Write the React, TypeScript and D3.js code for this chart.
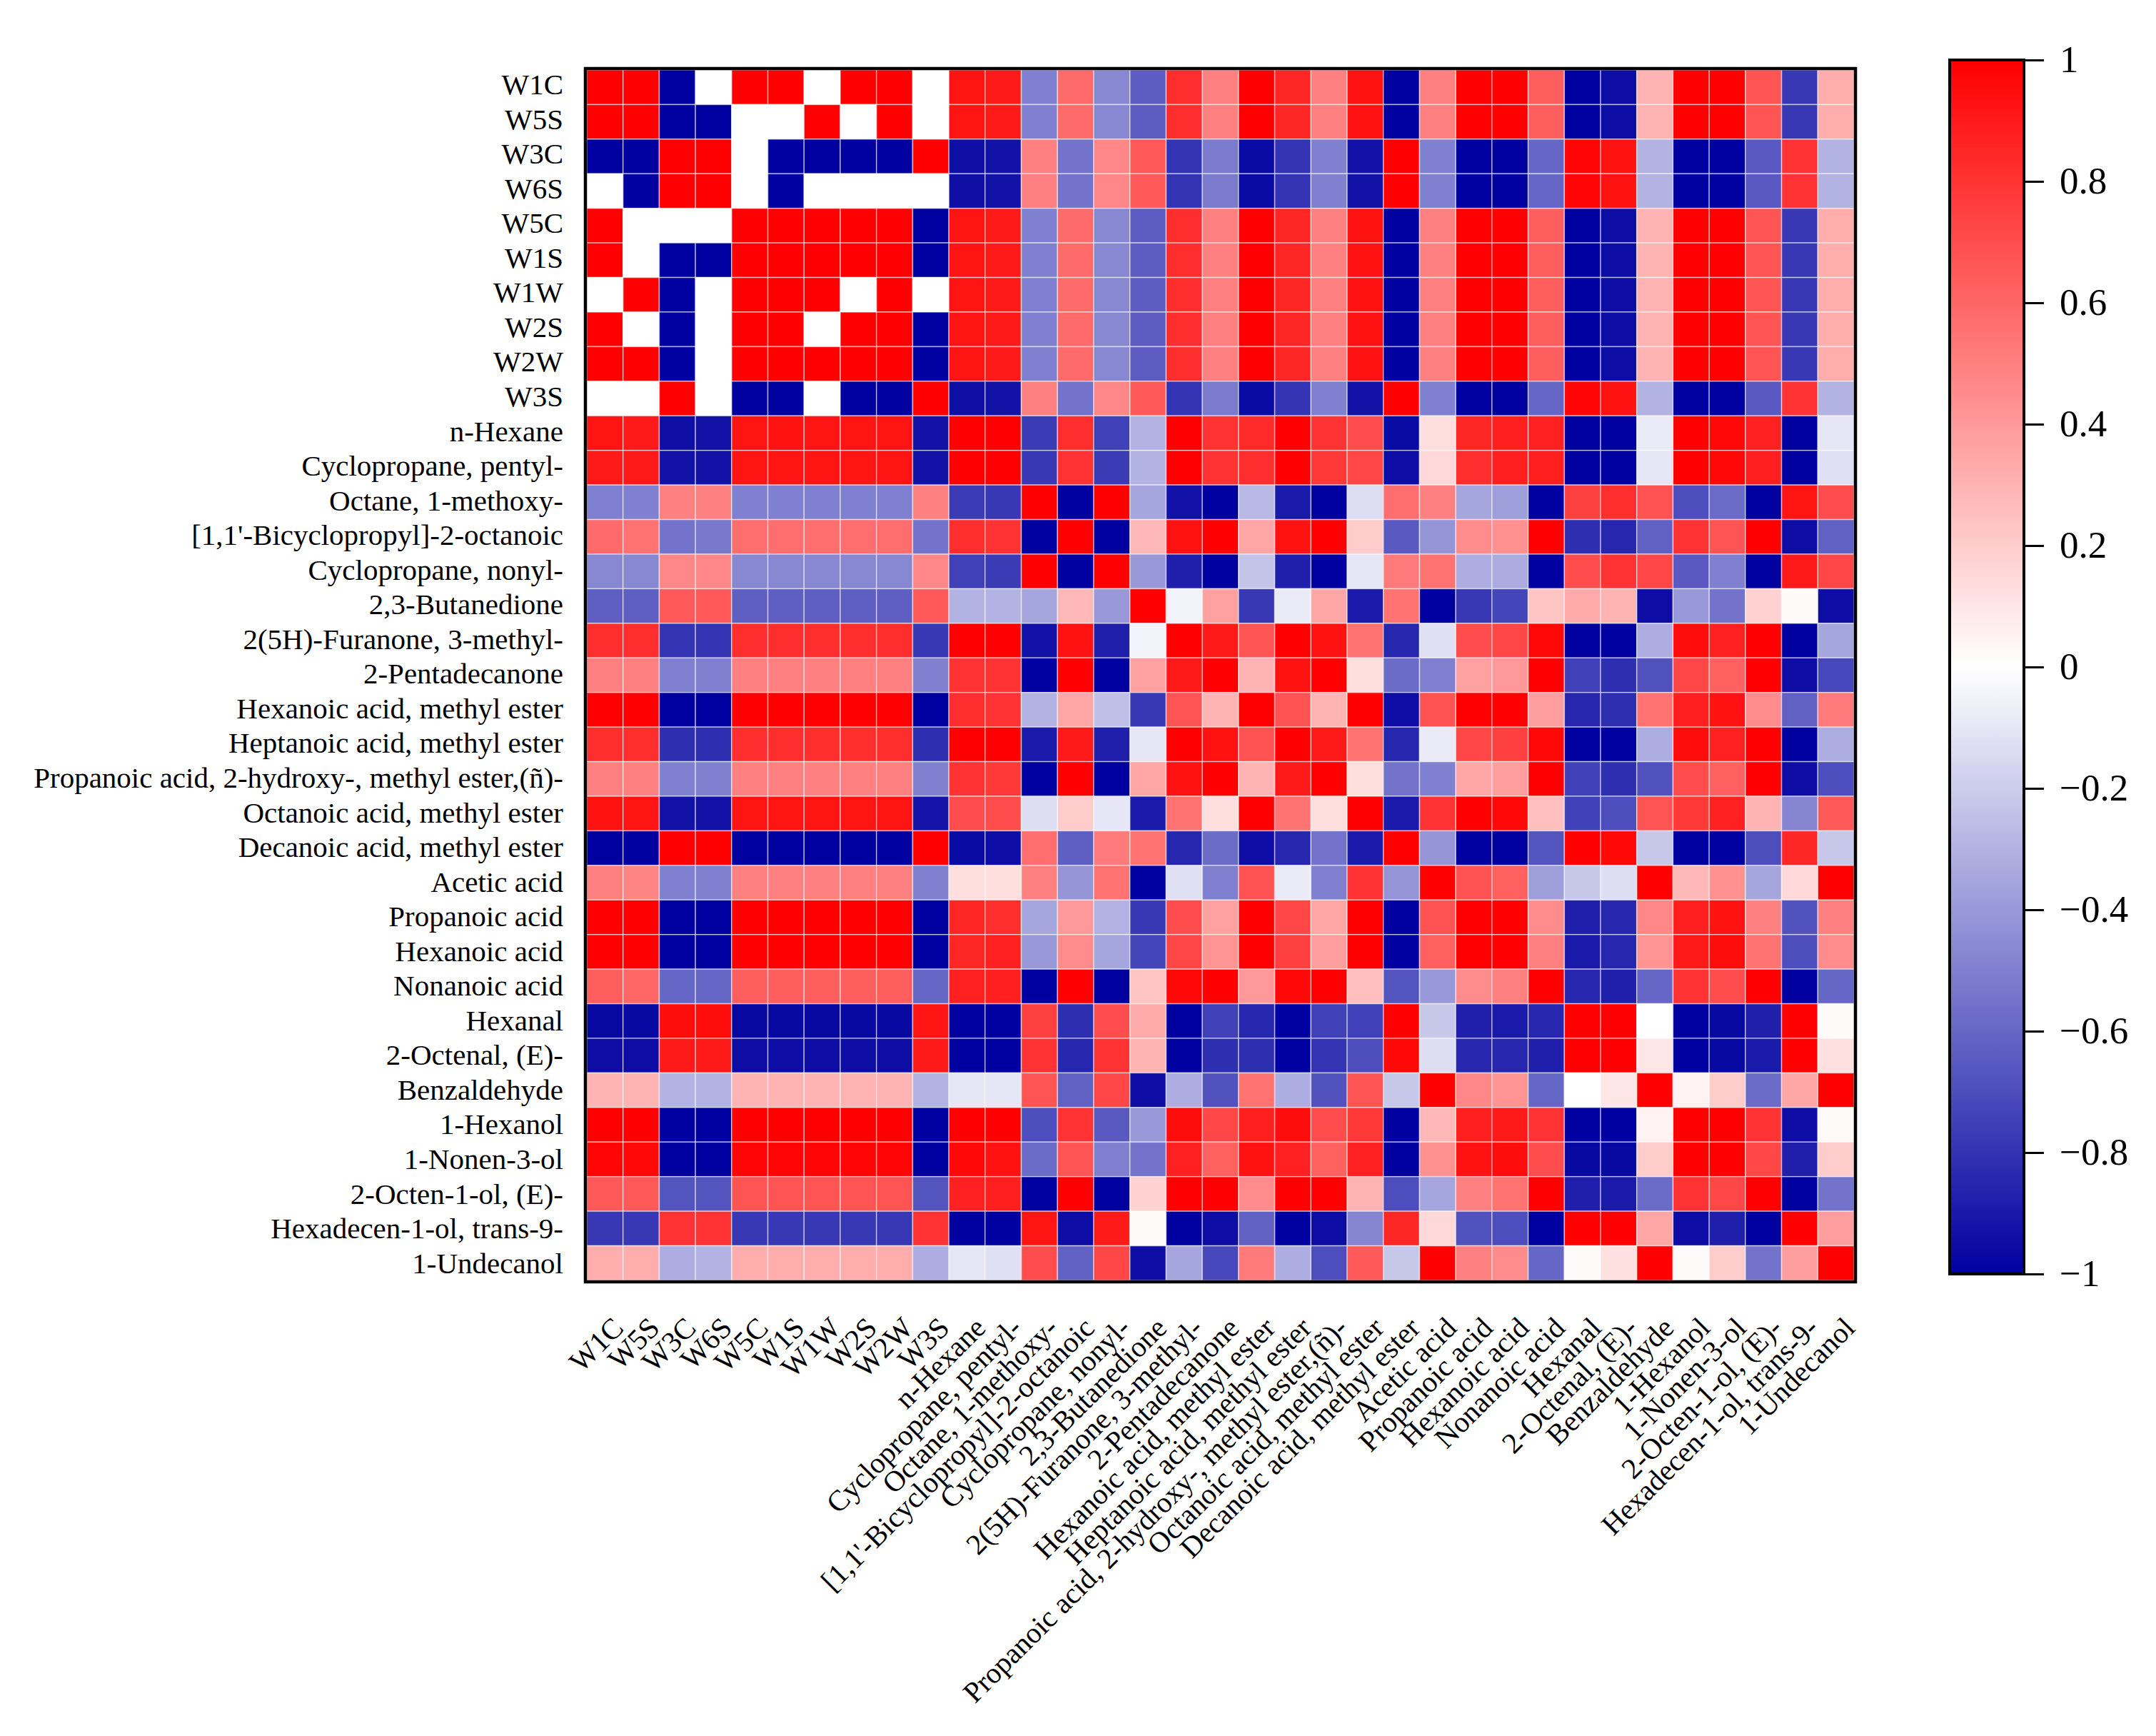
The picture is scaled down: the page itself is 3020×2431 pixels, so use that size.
import React, { useEffect, useRef } from 'react';
import * as d3 from 'd3';

const labels = [
  'W1C', 'W5S', 'W3C', 'W6S', 'W5C', 'W1S', 'W1W', 'W2S', 'W2W', 'W3S',
  'n-Hexane', 'Cyclopropane, pentyl-', 'Octane, 1-methoxy-', "[1,1'-Bicyclopropyl]-2-octanoic",
  'Cyclopropane, nonyl-', '2,3-Butanedione', '2(5H)-Furanone, 3-methyl-', '2-Pentadecanone',
  'Hexanoic acid, methyl ester', 'Heptanoic acid, methyl ester',
  'Propanoic acid, 2-hydroxy-, methyl ester,(ñ)-', 'Octanoic acid, methyl ester',
  'Decanoic acid, methyl ester', 'Acetic acid', 'Propanoic acid', 'Hexanoic acid', 'Nonanoic acid',
  'Hexanal', '2-Octenal, (E)-', 'Benzaldehyde', '1-Hexanol', '1-Nonen-3-ol', '2-Octen-1-ol, (E)-',
  'Hexadecen-1-ol, trans-9-', '1-Undecanol',
];

// correlation values, white cells are 0
const matrix: number[][] = [
  [1, 1, -1, 0, 1, 1, 0, 1, 1, 0, .92, .9, -.5, .58, -.47, -.64, .82, .5, 1, .85, .5, .93, -1, .5, 1, 1, .63, -1, -.95, .3, 1, 1, .67, -.78, .32],
  [1, 1, -1, -1, 0, 0, 1, 0, 1, 0, .92, .9, -.5, .58, -.47, -.64, .82, .5, 1, .85, .5, .93, -1, .5, 1, 1, .63, -1, -.95, .3, 1, 1, .67, -.78, .32],
  [-1, -1, 1, 1, 0, -1, -1, -1, -1, 1, -.94, -.93, .5, -.55, .47, .65, -.8, -.52, -.96, -.8, -.5, -.93, 1, -.5, -1, -1, -.6, .98, .93, -.3, -1, -1, -.65, .8, -.3],
  [0, -1, 1, 1, 0, -1, 0, 0, 0, 0, -.94, -.93, .5, -.55, .47, .65, -.8, -.52, -.96, -.8, -.5, -.93, 1, -.5, -1, -1, -.6, .98, .93, -.3, -1, -1, -.65, .8, -.3],
  [1, 0, 0, 0, 1, 1, 1, 1, 1, -1, .92, .9, -.5, .58, -.47, -.64, .82, .5, 1, .85, .5, .93, -1, .5, 1, 1, .63, -1, -.95, .3, 1, 1, .67, -.78, .32],
  [1, 0, -1, -1, 1, 1, 1, 1, 1, -1, .92, .9, -.5, .58, -.47, -.64, .82, .5, 1, .85, .5, .93, -1, .5, 1, 1, .63, -1, -.95, .3, 1, 1, .67, -.78, .32],
  [0, 1, -1, 0, 1, 1, 1, 0, 1, 0, .92, .9, -.5, .58, -.47, -.64, .82, .5, 1, .85, .5, .93, -1, .5, 1, 1, .63, -1, -.95, .3, 1, 1, .67, -.78, .32],
  [1, 0, -1, 0, 1, 1, 0, 1, 1, -1, .92, .9, -.5, .58, -.47, -.64, .82, .5, 1, .85, .5, .93, -1, .5, 1, 1, .63, -1, -.95, .3, 1, 1, .67, -.78, .32],
  [1, 1, -1, 0, 1, 1, 1, 1, 1, -1, .92, .9, -.5, .58, -.47, -.64, .82, .5, 1, .85, .5, .93, -1, .5, 1, 1, .63, -1, -.95, .3, 1, 1, .67, -.78, .32],
  [0, 0, 1, 0, -1, -1, 0, -1, -1, 1, -.94, -.93, .5, -.55, .47, .65, -.8, -.52, -.96, -.8, -.5, -.93, 1, -.5, -1, -1, -.6, .98, .93, -.3, -1, -1, -.65, .8, -.3],
  [.92, .9, -.94, -.93, .92, .93, .92, .92, .92, -.93, 1, 1, -.77, .82, -.75, -.3, 1, .8, .83, 1, .8, .7, -.96, .13, .85, .88, .87, -1, -1, -.08, 1, .97, .87, -1, -.1],
  [.9, .9, -.93, -.93, .92, .92, .92, .92, .92, -.93, 1, 1, -.78, .8, -.77, -.3, 1, .8, .82, 1, .78, .72, -.95, .15, .82, .88, .88, -1, -1, -.1, 1, .97, .88, -1, -.12],
  [-.5, -.5, .5, .5, -.5, -.5, -.5, -.5, -.5, .5, -.77, -.78, 1, -1, 1, -.35, -.93, -1, -.28, -.9, -1, -.13, .57, .5, -.35, -.38, -1, .75, .82, .68, -.7, -.58, -1, .92, .7],
  [.58, .55, -.55, -.53, .57, .57, .57, .57, .57, -.55, .82, .8, -1, 1, -1, .28, .93, 1, .35, .93, 1, .2, -.65, -.42, .45, .43, 1, -.82, -.85, -.62, .8, .67, 1, -.95, -.62],
  [-.47, -.47, .47, .47, -.47, -.47, -.47, -.47, -.47, .47, -.75, -.77, 1, -1, 1, -.4, -.88, -1, -.23, -.88, -1, -.1, .52, .55, -.32, -.33, -1, .7, .8, .72, -.65, -.5, -1, .9, .72],
  [-.63, -.63, .65, .65, -.63, -.63, -.63, -.63, -.63, .65, -.3, -.3, -.35, .28, -.4, 1, -.05, .37, -.78, -.08, .35, -.9, .55, -1, -.78, -.73, .23, .33, .3, -.95, -.4, -.55, .18, .02, -.95],
  [.82, .82, -.8, -.8, .82, .82, .82, .82, .82, -.78, 1, 1, -.93, .93, -.88, -.05, 1, .9, .67, 1, .93, .55, -.85, -.12, .7, .72, .97, -1, -1, -.32, .95, .87, 1, -1, -.35],
  [.5, .5, -.5, -.5, .5, .5, .5, .5, .5, -.5, .8, .8, -1, 1, -1, .37, .9, 1, .3, .93, 1, .13, -.58, -.5, .37, .4, 1, -.75, -.82, -.68, .72, .62, 1, -.95, -.72],
  [1, 1, -1, -1, 1, 1, 1, 1, 1, -1, .82, .8, -.3, .35, -.25, -.78, .67, .3, 1, .68, .3, 1, -.95, .68, 1, 1, .38, -.85, -.82, .55, .88, .93, .45, -.62, .52],
  [.82, .82, -.82, -.82, .82, .82, .82, .82, .82, -.82, 1, 1, -.9, .9, -.88, -.1, 1, .93, .68, 1, .9, .55, -.85, -.08, .72, .75, .97, -1, -1, -.32, .95, .87, 1, -1, -.32],
  [.5, .5, -.5, -.5, .5, .5, .5, .5, .5, -.5, .8, .78, -1, 1, -1, .35, .93, 1, .3, .9, 1, .13, -.55, -.5, .35, .38, 1, -.75, -.82, -.68, .7, .62, 1, -.95, -.7],
  [.93, .92, -.93, -.93, .92, .92, .92, .92, .92, -.92, .7, .7, -.13, .2, -.1, -.9, .55, .13, 1, .55, .13, 1, -.9, .8, 1, .97, .25, -.75, -.7, .67, .78, .87, .3, -.48, .65],
  [-1, -1, 1, 1, -1, -1, -1, -1, -1, 1, -.96, -.95, .57, -.63, .52, .55, -.85, -.58, -.95, -.85, -.55, -.9, 1, -.42, -1, -1, -.67, 1, .97, -.22, -1, -1, -.7, .85, -.22],
  [.5, .48, -.5, -.5, .5, .5, .5, .5, .5, -.5, .13, .13, .5, -.42, .55, -1, -.12, -.5, .68, -.08, -.5, .8, -.42, 1, .68, .62, -.38, -.22, -.13, 1, .28, .43, -.35, .15, 1],
  [1, 1, -1, -1, 1, 1, 1, 1, 1, -1, .85, .82, -.35, .4, -.3, -.78, .7, .37, 1, .72, .35, 1, -1, .68, 1, 1, .45, -.88, -.85, .47, .88, .93, .5, -.68, .5],
  [1, 1, -1, -1, 1, 1, 1, 1, 1, -1, .85, .87, -.4, .45, -.35, -.73, .72, .42, 1, .75, .38, 1, -1, .62, 1, 1, .5, -.9, -.85, .42, .9, .95, .55, -.7, .45],
  [.63, .6, -.6, -.6, .63, .63, .63, .63, .63, -.6, .87, .88, -1, 1, -1, .23, .97, 1, .4, .97, 1, .25, -.67, -.4, .45, .5, 1, -.85, -.88, -.6, .8, .7, 1, -1, -.6],
  [-.97, -.97, .95, .95, -.97, -.97, -.97, -.97, -.97, .92, -1, -1, .75, -.82, .7, .33, -1, -.75, -.85, -1, -.75, -.75, 1, -.22, -.88, -.9, -.85, 1, 1, 0, -1, -.97, -.88, 1, .02],
  [-.95, -.95, .9, .9, -.95, -.95, -.95, -.95, -.95, .9, -1, -1, .8, -.85, .8, .3, -1, -.82, -.82, -1, -.8, -.7, .97, -.13, -.85, -.85, -.88, 1, 1, .1, -1, -.97, -.9, 1, .12],
  [.3, .3, -.3, -.3, .3, .3, .3, .3, .3, -.3, -.1, -.1, .67, -.62, .72, -.95, -.32, -.68, .55, -.32, -.68, .67, -.22, 1, .47, .42, -.6, 0, .1, 1, .05, .2, -.58, .35, 1],
  [1, 1, -1, -1, 1, 1, 1, 1, 1, -1, 1, 1, -.7, .8, -.65, -.4, .95, .72, .88, .95, .7, .78, -1, .28, .88, .9, .8, -1, -1, .05, 1, 1, .8, -.95, .02],
  [.98, .97, -1, -1, .98, .98, .98, .98, .98, -1, .97, .93, -.58, .67, -.5, -.55, .87, .62, .93, .87, .62, .87, -1, .43, .93, .95, .7, -.97, -.97, .2, 1, 1, .72, -.88, .2],
  [.65, .65, -.67, -.67, .67, .67, .67, .67, .67, -.67, .87, .88, -1, 1, -1, .18, 1, 1, .45, 1, 1, .3, -.7, -.35, .5, .55, 1, -.88, -.9, -.58, .8, .72, 1, -1, -.55],
  [-.78, -.78, .8, .8, -.78, -.78, -.78, -.78, -.78, .8, -1, -1, .92, -.95, .9, .02, -1, -.95, -.62, -1, -.95, -.48, .85, .15, -.68, -.7, -1, 1, 1, .35, -.95, -.88, -1, 1, .38],
  [.32, .32, -.32, -.3, .32, .32, .32, .32, .32, -.32, -.1, -.12, .7, -.62, .72, -.95, -.35, -.72, .52, -.32, -.7, .65, -.22, 1, .5, .45, -.6, .02, .12, 1, .02, .2, -.55, .38, 1],
];

const colorTicks = [1, .8, .6, .4, .2, 0, -.2, -.4, -.6, -.8, -1];

const serif = '"Liberation Serif", "Times New Roman", serif';

const App = () => {
  const svgRef = useRef<SVGSVGElement>(null);

  useEffect(() => {
    const svg = d3.select(svgRef.current);
    svg.selectAll('*').remove();

    const color = d3.scaleLinear<string>()
      .domain([-1, 0, 1])
      .range(['#0000a0', '#ffffff', '#ff0000']);

    // Heatmap cells
    const x = d3.scaleBand().domain(labels).range([822, 2597]);
    const y = d3.scaleBand().domain(labels).range([98, 1793]);

    const cells = matrix.flatMap((row, r) => row.map((value, c) => ({ r, c, value })));
    svg.append('g')
      .selectAll('rect')
      .data(cells)
      .enter()
      .append('rect')
      .attr('x', (d) => x(labels[d.c]))
      .attr('y', (d) => y(labels[d.r]))
      .attr('width', x.bandwidth())
      .attr('height', y.bandwidth())
      .attr('fill', (d) => color(d.value))
      .attr('stroke', '#fff')
      .attr('stroke-opacity', 0.55)
      .attr('stroke-width', 1.5);

    svg.append('rect')
      .attr('x', 820)
      .attr('y', 96)
      .attr('width', 1779)
      .attr('height', 1699)
      .attr('fill', 'none')
      .attr('stroke', '#000')
      .attr('stroke-width', 4.5);

    // Row labels
    const yLabels = d3.scalePoint().domain(labels).range([118.5, 1769]);
    const yAxis = svg.append('g')
      .attr('transform', 'translate(789,0)')
      .call(d3.axisLeft(yLabels).tickSize(0).tickPadding(0));
    yAxis.select('.domain').remove();
    yAxis.selectAll('text')
      .attr('font-family', serif)
      .attr('font-size', 41)
      .attr('fill', '#000');

    // Column labels, rotated with their end under the column
    const xLabels = d3.scalePoint().domain(labels).range([875, 2600]);
    const xAxis = svg.append('g')
      .attr('transform', 'translate(0,1862)')
      .call(d3.axisBottom(xLabels).tickSize(0).tickPadding(0));
    xAxis.select('.domain').remove();
    xAxis.selectAll('text')
      .attr('font-family', serif)
      .attr('font-size', 41)
      .attr('fill', '#000')
      .attr('text-anchor', 'end')
      .attr('dy', 0)
      .attr('y', 0)
      .attr('transform', 'rotate(-45)');

    // Colour bar
    const barScale = d3.scaleLinear().domain([-1, 1]).range([1784, 84]);
    const defs = svg.append('defs');
    const gradient = defs.append('linearGradient')
      .attr('id', 'bar')
      .attr('x1', 0)
      .attr('x2', 0)
      .attr('y1', 0)
      .attr('y2', 1);
    gradient.selectAll('stop')
      .data([1, 0, -1])
      .enter()
      .append('stop')
      .attr('offset', (d) => (1 - d) / 2)
      .attr('stop-color', (d) => color(d));

    svg.append('rect')
      .attr('x', 2731)
      .attr('y', 84)
      .attr('width', 104)
      .attr('height', 1700)
      .attr('fill', 'url(#bar)')
      .attr('stroke', '#000')
      .attr('stroke-width', 4);

    const barAxis = svg.append('g')
      .attr('transform', 'translate(2835,0)')
      .call(d3.axisRight(barScale)
        .tickValues(colorTicks)
        .tickSize(28)
        .tickPadding(22)
        .tickFormat(d3.format('~g') as any));
    barAxis.select('.domain').remove();
    barAxis.selectAll('line').attr('stroke', '#000').attr('stroke-width', 3);
    barAxis.selectAll('text')
      .attr('font-family', serif)
      .attr('font-size', 53)
      .attr('fill', '#000');
  }, []);

  return (
    <svg
      ref={svgRef}
      width={3020}
      height={2431}
      style={{ position: 'absolute', left: 0, top: 0, background: '#fff' }}
    />
  );
};

export default App;
